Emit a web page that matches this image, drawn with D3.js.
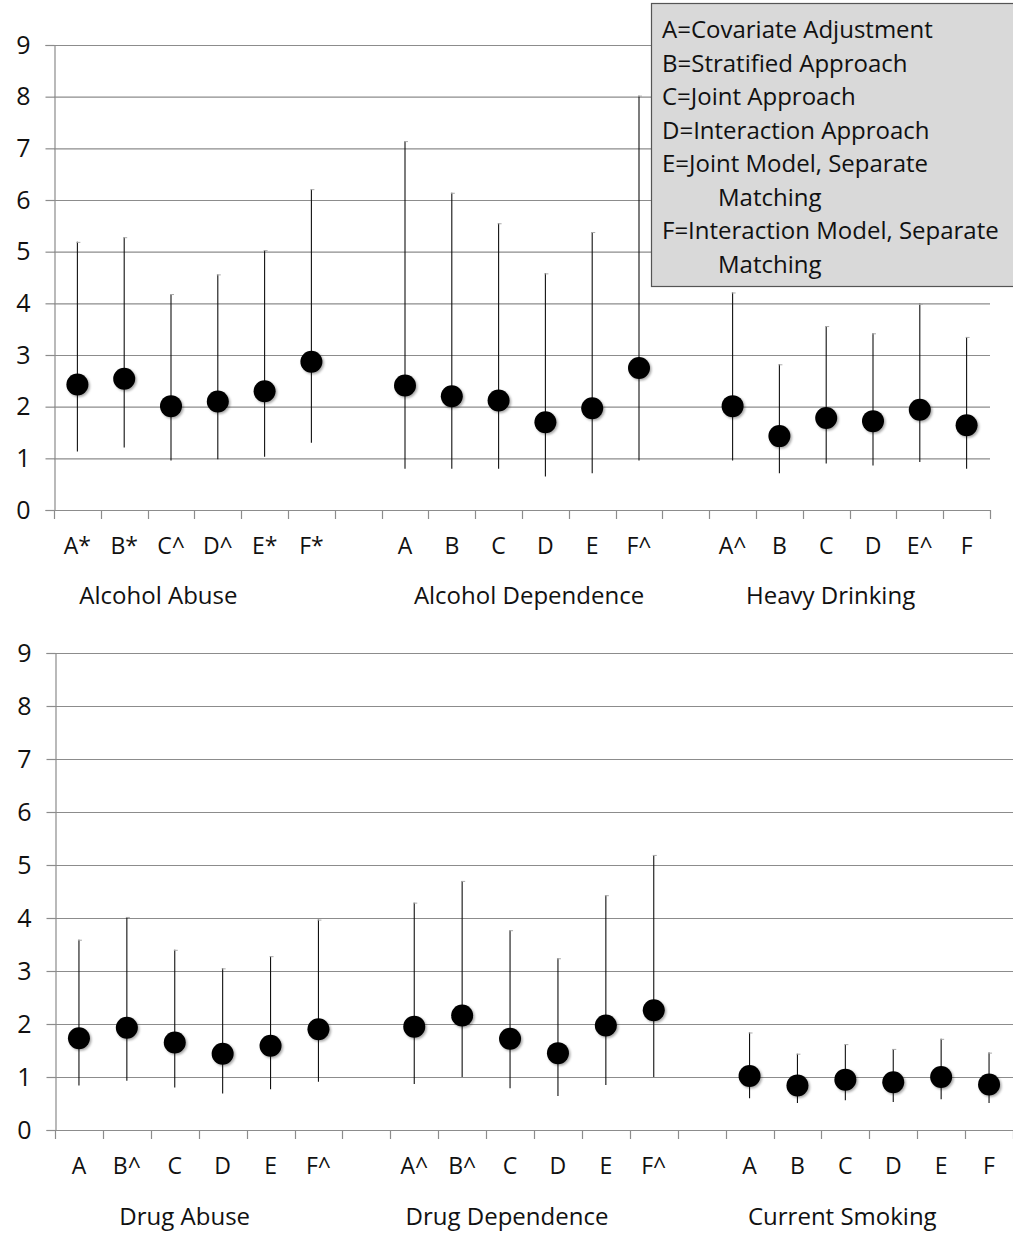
<!DOCTYPE html>
<html>
<head>
<meta charset="utf-8">
<script src="https://cdn.jsdelivr.net/npm/d3@7"></script>
<style>
  html, body { margin: 0; padding: 0; background: #fff; }
  svg { display: block; }
  text { font-family: "Open Sans", "DejaVu Sans", sans-serif; fill: #111; }
</style>
</head>
<body>
<svg id="chart" width="1013" height="1234"></svg>
<script>
// ---------------- DATA ----------------
const methods = ["A", "B", "C", "D", "E", "F"];

const topGroups = ["Alcohol Abuse", "Alcohol Dependence", "Heavy Drinking"];
const topLabels = [
  ["A*", "B*", "C^", "D^", "E*", "F*"],
  ["A", "B", "C", "D", "E", "F^"],
  ["A^", "B", "C", "D", "E^", "F"]
];
const topEstimate = [
  [2.43, 2.54, 2.01, 2.10, 2.30, 2.87],
  [2.41, 2.20, 2.12, 1.70, 1.97, 2.75],
  [2.01, 1.43, 1.78, 1.72, 1.94, 1.64]
];
const topLower = [
  [1.13, 1.21, 0.96, 0.98, 1.03, 1.30],
  [0.80, 0.80, 0.80, 0.65, 0.71, 0.96],
  [0.96, 0.71, 0.90, 0.86, 0.93, 0.80]
];
const topUpper = [
  [5.19, 5.28, 4.18, 4.56, 5.03, 6.21],
  [7.14, 6.14, 5.55, 4.58, 5.38, 8.02],
  [4.21, 2.82, 3.56, 3.42, 3.99, 3.35]
];

const bottomGroups = ["Drug Abuse", "Drug Dependence", "Current Smoking"];
const bottomLabels = [
  ["A", "B^", "C", "D", "E", "F^"],
  ["A^", "B^", "C", "D", "E", "F^"],
  ["A", "B", "C", "D", "E", "F"]
];
const bottomEstimate = [
  [1.73, 1.93, 1.65, 1.44, 1.59, 1.90],
  [1.95, 2.16, 1.72, 1.45, 1.97, 2.26],
  [1.02, 0.84, 0.95, 0.90, 1.00, 0.86]
];
const bottomLower = [
  [0.84, 0.93, 0.80, 0.69, 0.77, 0.91],
  [0.87, 1.00, 0.79, 0.64, 0.85, 1.00],
  [0.60, 0.51, 0.56, 0.53, 0.58, 0.51]
];
const bottomUpper = [
  [3.59, 4.02, 3.40, 3.05, 3.28, 3.97],
  [4.29, 4.70, 3.77, 3.24, 4.43, 5.19],
  [1.84, 1.44, 1.62, 1.53, 1.72, 1.46]
];

const yTicks = [0, 1, 2, 3, 4, 5, 6, 7, 8, 9];

const legendLines = [
  { text: "A=Covariate Adjustment", indent: false },
  { text: "B=Stratified Approach", indent: false },
  { text: "C=Joint Approach", indent: false },
  { text: "D=Interaction Approach", indent: false },
  { text: "E=Joint Model, Separate", indent: false },
  { text: "Matching", indent: true },
  { text: "F=Interaction Model, Separate", indent: false },
  { text: "Matching", indent: true }
];

// ---------------- LAYOUT ----------------
const svg = d3.select("#chart");

function buildPanel(cfg) {
  const g = svg.append("g");
  const domain = [];
  const rows = [];
  cfg.groups.forEach((grp, gi) => {
    if (gi > 0) domain.push("gap" + gi);
    methods.forEach((m, mi) => {
      const key = grp + "|" + m;
      domain.push(key);
      rows.push({
        key, group: grp, gi,
        label: cfg.labels[gi][mi],
        est: cfg.est[gi][mi],
        lo: cfg.lo[gi][mi],
        hi: cfg.hi[gi][mi]
      });
    });
  });

  const x = d3.scaleBand().domain(domain).range([cfg.x0, cfg.x1]).paddingInner(0).paddingOuter(0);
  const y = d3.scaleLinear().domain([0, 9]).range([cfg.yBottom, cfg.yTop]);

  // gridlines
  g.append("g").selectAll("line").data(yTicks.filter(d => d > 0)).join("line")
    .attr("x1", cfg.x0).attr("x2", cfg.gridRight)
    .attr("y1", d => y(d) + 0.5).attr("y2", d => y(d) + 0.5)
    .attr("stroke", "#8c8c8c").attr("stroke-width", 1.2);

  // y axis
  const yAxis = g.append("g")
    .attr("transform", `translate(${cfg.x0 + 0.5},0)`)
    .call(d3.axisLeft(y).tickValues(yTicks).tickSize(9).tickPadding(15).tickFormat(d3.format("d")));
  yAxis.select(".domain").attr("stroke", "#8c8c8c").attr("stroke-width", 1.2);
  yAxis.selectAll(".tick line").attr("stroke", "#8c8c8c").attr("stroke-width", 1.2);
  yAxis.selectAll(".tick text")
    .style("font-family", '"Open Sans", sans-serif')
    .style("font-size", "25px").attr("fill", "#111");

  // x axis line
  g.append("line")
    .attr("x1", cfg.x0).attr("x2", cfg.gridRight)
    .attr("y1", y(0) + 0.5).attr("y2", y(0) + 0.5)
    .attr("stroke", "#8c8c8c").attr("stroke-width", 1.2);

  // x tick marks at band boundaries
  const bounds = domain.map(k => x(k)).concat([x(domain[domain.length - 1]) + x.bandwidth()]);
  g.append("g").selectAll("line").data(bounds).join("line")
    .attr("x1", d => Math.round(d) + 0.5).attr("x2", d => Math.round(d) + 0.5)
    .attr("y1", y(0)).attr("y2", y(0) + 9)
    .attr("stroke", "#8c8c8c").attr("stroke-width", 1.2);

  // category labels via axis
  const xAxis = g.append("g")
    .attr("transform", `translate(0,${y(0)})`)
    .call(d3.axisBottom(x)
      .tickValues(rows.map(r => r.key))
      .tickSize(0).tickPadding(cfg.catPad)
      .tickFormat(k => rows.find(r => r.key === k).label));
  xAxis.select(".domain").remove();
  xAxis.selectAll(".tick text")
    .style("font-family", '"Open Sans", sans-serif')
    .style("font-size", "23px").attr("fill", "#111");

  // group labels
  g.append("g").selectAll("text").data(cfg.groups).join("text")
    .attr("x", (d, i) => {
      const first = x(d + "|A"), last = x(d + "|F") + x.bandwidth();
      return (first + last) / 2 + cfg.groupShift[i];
    })
    .attr("y", cfg.groupY)
    .attr("text-anchor", "middle")
    .style("font-size", "24px")
    .text(d => d);

  // error bars
  const cx = r => x(r.key) + x.bandwidth() / 2;
  g.append("g").selectAll("line").data(rows).join("line")
    .attr("x1", cx).attr("x2", cx)
    .attr("y1", r => y(r.lo)).attr("y2", r => y(r.hi))
    .attr("stroke", "#111").attr("stroke-width", 1.1);
  g.append("g").selectAll("line").data(rows).join("line")
    .attr("x1", r => cx(r) - 1).attr("x2", r => cx(r) + 3)
    .attr("y1", r => y(r.hi) + 0.5).attr("y2", r => y(r.hi) + 0.5)
    .attr("stroke", "#aaa").attr("stroke-width", 1);

  // points
  g.append("g").selectAll("circle").data(rows).join("circle")
    .attr("cx", cx).attr("cy", r => y(r.est)).attr("r", 11)
    .attr("fill", "#000")
    .attr("filter", "url(#shadow)");
}

const defs = svg.append("defs");
const f = defs.append("filter").attr("id", "shadow")
  .attr("x", "-50%").attr("y", "-50%").attr("width", "200%").attr("height", "200%");
f.append("feDropShadow").attr("dx", 1.5).attr("dy", 1.5).attr("stdDeviation", 1.2)
  .attr("flood-color", "#000").attr("flood-opacity", 0.35);

buildPanel({
  groups: topGroups, labels: topLabels,
  est: topEstimate, lo: topLower, hi: topUpper,
  x0: 54, x1: 990, gridRight: 990,
  yTop: 45, yBottom: 510,
  catPad: 28, groupY: 604,
  groupShift: [-36, 7, -19]
});

buildPanel({
  groups: bottomGroups, labels: bottomLabels,
  est: bottomEstimate, lo: bottomLower, hi: bottomUpper,
  x0: 55, x1: 1013, gridRight: 1013,
  yTop: 653, yBottom: 1130,
  catPad: 28, groupY: 1225,
  groupShift: [-14, -27, -27]
});

// legend box
const lg = svg.append("g");
lg.append("rect")
  .attr("x", 651.5).attr("y", 3.5).attr("width", 370).attr("height", 283)
  .attr("fill", "#d9d9d9").attr("stroke", "#555").attr("stroke-width", 1.2);
lg.selectAll("text").data(legendLines).join("text")
  .attr("x", d => d.indent ? 718 : 662)
  .attr("y", (d, i) => 38 + i * 33.5)
  .style("font-size", "24px")
  .text(d => d.text);
</script>
</body>
</html>
